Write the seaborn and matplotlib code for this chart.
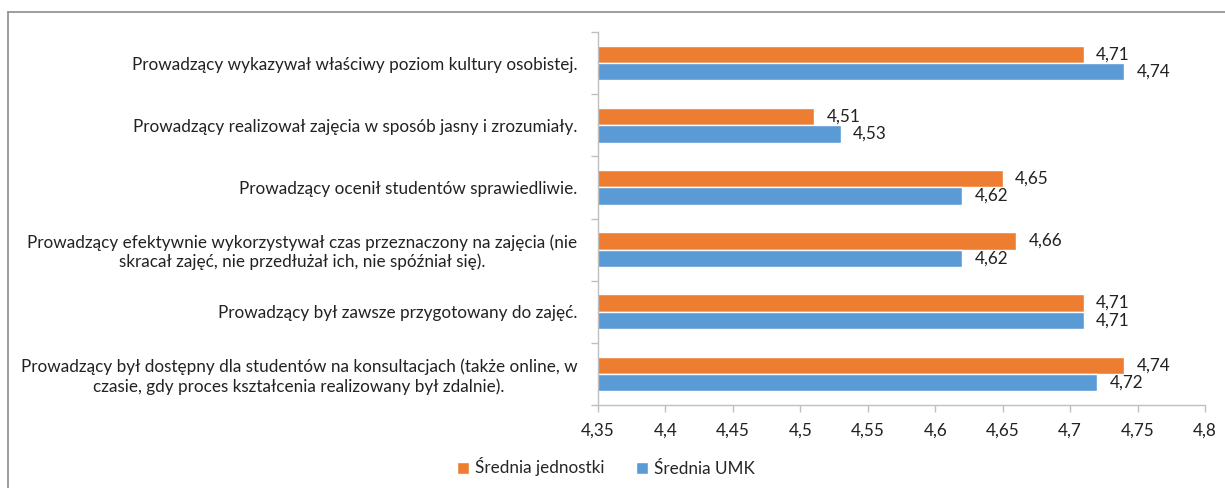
import matplotlib
matplotlib.use("Agg")
import matplotlib.pyplot as plt
import seaborn as sns
import pandas as pd
from matplotlib.lines import Line2D

categories = [
    "Prowadzący wykazywał właściwy poziom kultury osobistej.",
    "Prowadzący realizował zajęcia w sposób jasny i zrozumiały.",
    "Prowadzący ocenił studentów sprawiedliwie.",
    "Prowadzący efektywnie wykorzystywał czas przeznaczony na zajęcia (nie\nskracał zajęć, nie przedłużał ich, nie spóźniał się).",
    "Prowadzący był zawsze przygotowany do zajęć.",
    "Prowadzący był dostępny dla studentów na konsultacjach (także online, w\nczasie, gdy proces kształcenia realizowany był zdalnie).",
]
series_names = ["Średnia jednostki", "Średnia UMK"]
jednostki = [4.71, 4.51, 4.65, 4.66, 4.71, 4.74]
umk = [4.74, 4.53, 4.62, 4.62, 4.71, 4.72]
xticks = [4.35, 4.4, 4.45, 4.5, 4.55, 4.6, 4.65, 4.7, 4.75, 4.8]
colors = ["#ED7D31", "#5B9BD5"]

sns.set_theme(style="white")
plt.rcParams["font.family"] = ["Lato", "DejaVu Sans"]

df = pd.DataFrame({
    "cat": categories * 2,
    "val": jednostki + umk,
    "series": [series_names[0]] * len(categories) + [series_names[1]] * len(categories),
})

fig = plt.figure(figsize=(12.25, 4.88), dpi=100)
ax = fig.add_axes([598 / 1225, 1 - 405 / 488, (1205 - 598) / 1225, (405 - 32) / 488])

sns.barplot(data=df, y="cat", x="val", hue="series", orient="h",
            palette=colors, width=0.56, ax=ax, saturation=1, legend=True)

fs = 12.3
ax.set_xlim(4.35, 4.8)
ax.set_ylim(len(categories) - 0.5, -0.5)
ax.set_xticks(xticks)
ax.set_xticklabels([f"{t:g}".replace(".", ",") for t in xticks], fontsize=fs, color="#222222")
ax.set_yticks(range(len(categories)))
ax.set_yticklabels(categories, fontsize=fs, color="#222222", multialignment="center")
ax.set_yticks([i - 0.5 for i in range(len(categories) + 1)], minor=True)
ax.tick_params(axis="y", which="major", length=0, pad=15)
ax.tick_params(axis="y", which="minor", length=5, color="#BFBFBF", width=1, direction="out", left=True)
ax.tick_params(axis="x", which="major", length=5, color="#BFBFBF", width=1, direction="out", bottom=True, pad=8)
ax.set_xlabel("")
ax.set_ylabel("")
for s in ["top", "right"]:
    ax.spines[s].set_visible(False)
for s in ["left", "bottom"]:
    ax.spines[s].set_color("#BFBFBF")
    ax.spines[s].set_linewidth(1)

for cont in ax.containers:
    labels = [f"{v:.2f}".replace(".", ",") for v in cont.datavalues]
    ax.bar_label(cont, labels=labels, padding=9, fontsize=fs, color="#222222")

handles, labs = ax.get_legend_handles_labels()
ax.legend_.remove()
fig.legend(handles, labs, loc="center", bbox_to_anchor=(606 / 1225, 1 - 467 / 488),
           ncol=2, frameon=False, fontsize=fs, handlelength=0.7, handleheight=0.7,
           handletextpad=0.4, columnspacing=1.8)

fig.add_artist(Line2D([8 / 1225, 1], [1 - 12 / 488, 1 - 12 / 488], color="#8C8C8C", lw=1.2, transform=fig.transFigure))
fig.add_artist(Line2D([8 / 1225, 8 / 1225], [0, 1 - 12 / 488], color="#8C8C8C", lw=1.2, transform=fig.transFigure))

fig.savefig("out.png", dpi=100)
